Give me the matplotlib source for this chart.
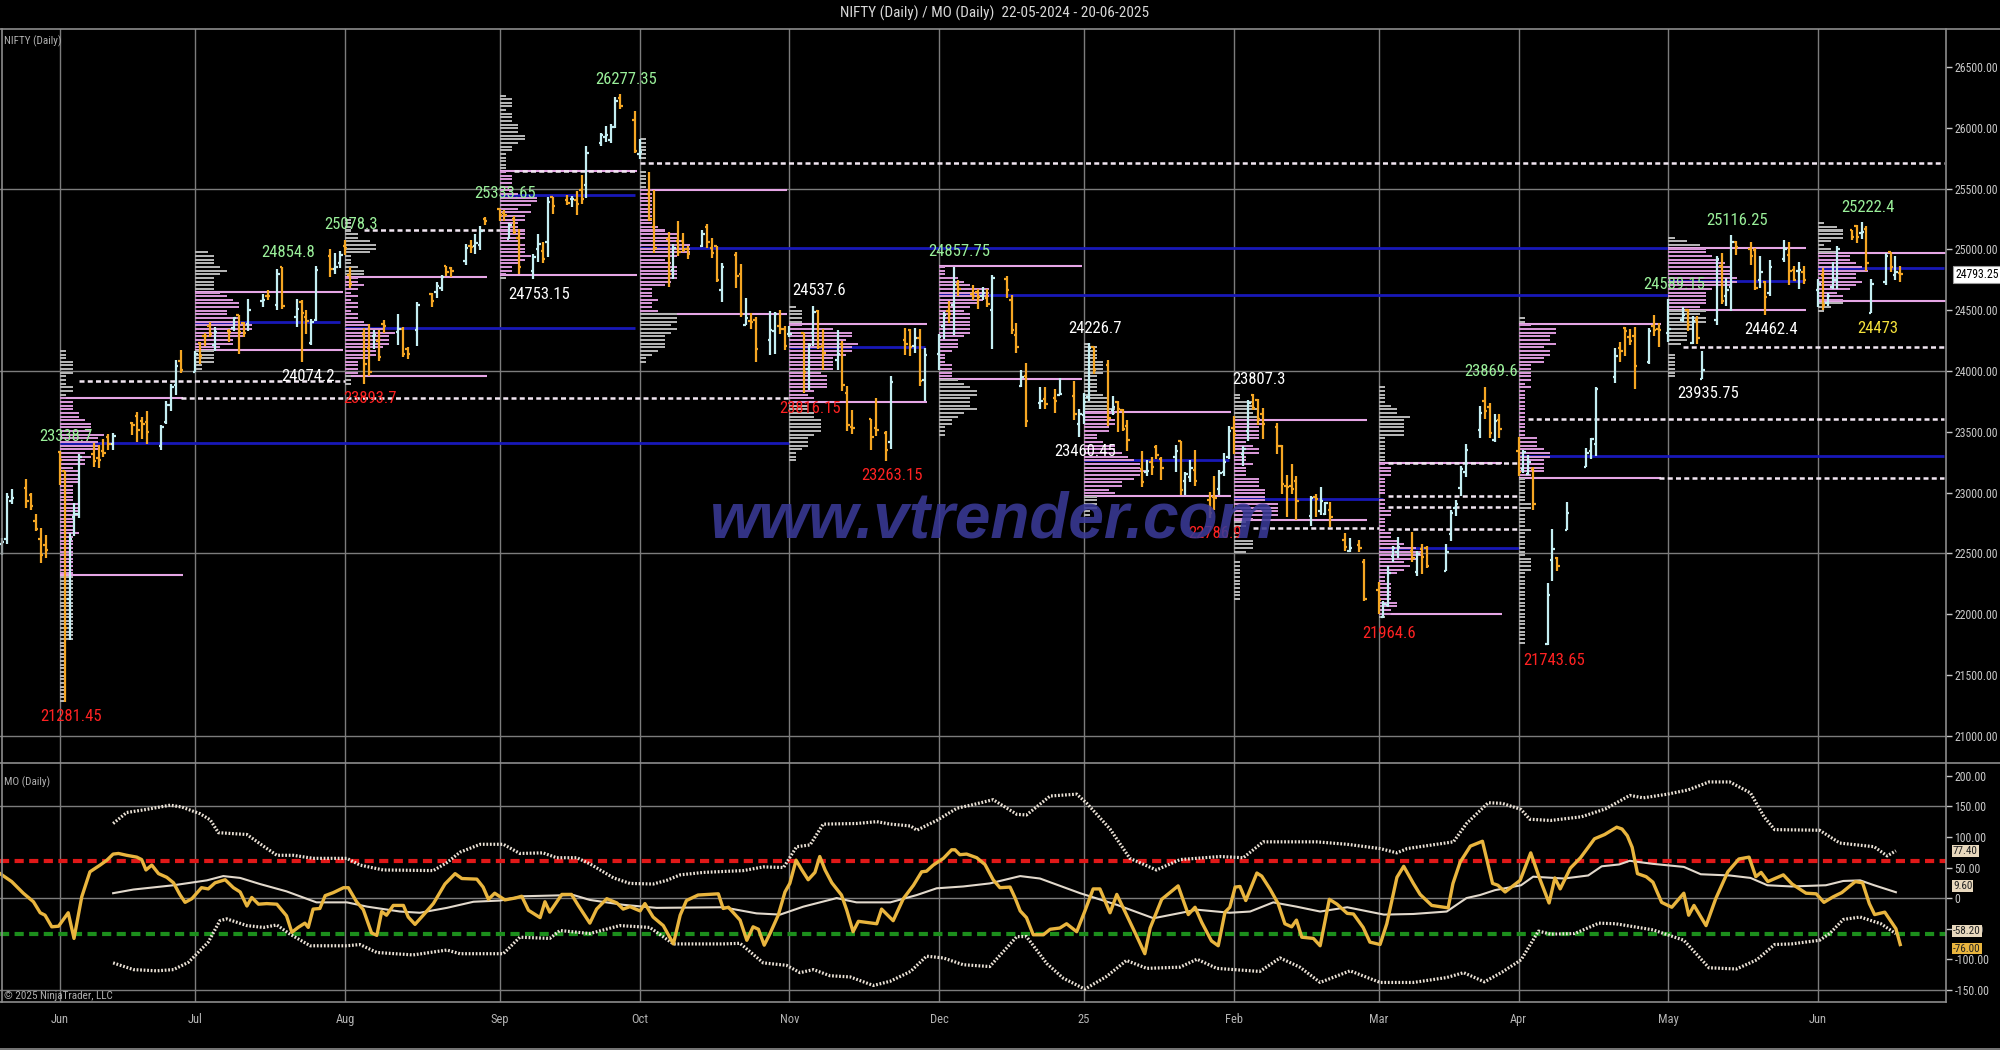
import numpy as np
import pandas as pd
import matplotlib
matplotlib.use("Agg")
import matplotlib.pyplot as plt
import matplotlib.dates as mdates
from matplotlib.collections import LineCollection
from matplotlib.lines import Line2D
from matplotlib.ticker import FuncFormatter
from matplotlib import font_manager as fm

# ---------------- data ----------------
trading_days = [
    ("2024-05", [22, 23, 24, 27, 28, 29, 30, 31]),
    ("2024-06", [3, 4, 5, 6, 7, 10, 11, 12, 13, 14, 18, 19, 20, 21, 24, 25, 26, 27, 28]),
    ("2024-07", [1, 2, 3, 4, 5, 8, 9, 10, 11, 12, 15, 16, 18, 19, 22, 23, 24, 25, 26, 29, 30, 31]),
    ("2024-08", [1, 2, 5, 6, 7, 8, 9, 12, 13, 14, 16, 19, 20, 21, 22, 23, 26, 27, 28, 29, 30]),
    ("2024-09", [2, 3, 4, 5, 6, 9, 10, 11, 12, 13, 16, 17, 18, 19, 20, 23, 24, 25, 26, 27, 30]),
    ("2024-10", [1, 3, 4, 7, 8, 9, 10, 11, 14, 15, 16, 17, 18, 21, 22, 23, 24, 25, 28, 29, 30, 31]),
    ("2024-11", [1, 4, 5, 6, 7, 8, 11, 12, 13, 14, 18, 19, 21, 22, 25, 26, 27, 28, 29]),
    ("2024-12", [2, 3, 4, 5, 6, 9, 10, 11, 12, 13, 16, 17, 18, 19, 20, 23, 24, 26, 27, 30, 31]),
    ("2025-01", [1, 2, 3, 6, 7, 8, 9, 10, 13, 14, 15, 16, 17, 20, 21, 22, 23, 24, 27, 28, 29, 30, 31]),
    ("2025-02", [1, 3, 4, 5, 6, 7, 10, 11, 12, 13, 14, 17, 18, 19, 20, 21, 24, 25, 27, 28]),
    ("2025-03", [3, 4, 5, 6, 7, 10, 11, 12, 13, 17, 18, 19, 20, 21, 24, 25, 26, 27, 28]),
    ("2025-04", [1, 2, 3, 4, 7, 8, 9, 11, 15, 16, 17, 21, 22, 23, 24, 25, 28, 29, 30]),
    ("2025-05", [2, 5, 6, 7, 8, 9, 12, 13, 14, 15, 16, 19, 20, 21, 22, 23, 26, 27, 28, 29, 30]),
    ("2025-06", [2, 3, 4, 5, 6, 9, 10, 11, 12, 13, 16, 17, 18, 19]),
]

opens = [
    22577, 22614, 22930, 23038, 22977, 22762, 22617, 22568,
    23337, 23179, 22128, 22798, 22821, 23319, 23283, 23344, 23453, 23400, 23570, 23629, 23586, 23581, 23382, 23578, 23724, 23881, 24085,
    23992, 24229, 24291, 24369, 24213, 24329, 24351, 24459, 24396, 24388, 24572, 24615, 24543, 24853, 24445, 24568, 24445, 24230, 24423, 24943, 24839, 24891,
    25030, 24789, 24302, 24189, 24289, 24248, 24387, 24321, 24343, 24184, 24335, 24636, 24648, 24680, 24863, 24845, 24906, 25025, 25030, 25035, 25249,
    25333, 25300, 25089, 25250, 25093, 24823, 24999, 24989, 25060, 25431, 25406, 25416, 25402, 25488, 25526, 25872, 25921, 25899, 26005, 26248, 26061,
    25788, 25453, 25182, 25085, 24832, 25065, 25067, 25002, 25024, 25186, 25008, 25027, 24665, 24956, 24799, 24379, 24412, 24418, 24252, 24329, 24371, 24349,
    24302, 24315, 24016, 24308, 24489, 24207, 24087, 24225, 23822, 23542, 23605, 23529, 23488, 23412, 24253, 24340, 24204, 24274, 23927,
    24140, 24368, 24489, 24539, 24711, 24633, 24652, 24620, 24604, 24498, 24753, 24584, 24298, 23877, 23960, 23738, 23769, 23775, 23801, 23796, 23561,
    23637, 23783, 24196, 24045, 23679, 23746, 23675, 23551, 23195, 23165, 23250, 23377, 23277, 23290, 23421, 23099, 23128, 23183, 22941, 22961, 23026, 23169, 23296,
    23528, 23319, 23509, 23801, 23761, 23650, 23543, 23383, 23050, 23055, 23097, 22809, 22963, 22847, 22821, 22857, 22610, 22516, 22568, 22433,
    22195, 21974, 22073, 22480, 22508, 22521, 22345, 22537, 22541, 22353, 22662, 22874, 23036, 23168, 23515, 23751, 23701, 23433, 23600,
    23341, 23193, 23150, 23191, 21758, 22446, 22460, 22695, 23207, 23344, 23401, 23949, 24186, 24357, 24277, 24290, 24070, 24370, 24343,
    24311, 24419, 24500, 24233, 24416, 23936, 24420, 24864, 24613, 24694, 25064, 25005, 24997, 24745, 24733, 24639, 24919, 24957, 24832, 24825, 24812,
    24669, 24786, 24561, 24691, 24748, 25160, 25196, 25134, 25164, 24473, 24732, 24977, 24788, 24803,
]
highs = [
    22629, 22993, 23026, 23110, 22998, 22825, 22705, 22653,
    23338.7, 23179, 22670, 22910, 23320, 23411, 23389, 23441, 23481, 23490, 23579, 23664, 23624, 23668, 23558, 23754, 23889, 24087, 24174,
    24164, 24236, 24309, 24401, 24363, 24344, 24443, 24461, 24402, 24592, 24635, 24662, 24837, 24854.8, 24595, 24582, 24504, 24426, 24861, 24999, 24971, 24984,
    25078.3, 24851, 24350, 24382, 24337, 24340, 24419, 24472, 24359, 24196, 24563, 24638, 24734, 24787, 24867, 24858, 25043, 25073, 25129, 25192, 25268,
    25333.65, 25321, 25216, 25275, 25168, 24958, 25130, 25061, 25434, 25431, 25445, 25441, 25482, 25611, 25849, 25956, 26011, 26032, 26250, 26277.35, 26134,
    25907, 25639, 25486, 25143, 25044, 25235, 25134, 25029, 25159, 25212, 25093, 25029, 24886, 24979, 24882, 24604, 24480, 24440, 24492, 24484, 24498, 24372,
    24368, 24316, 24229, 24537.6, 24503, 24345, 24336, 24243, 23873, 23675, 23606, 23780, 23507, 23956, 24351, 24343, 24354, 24345, 24188,
    24301, 24481, 24574, 24857.75, 24751, 24705, 24677, 24691, 24675, 24792, 24781, 24624, 24394, 24004, 24066, 23869, 23867, 23854, 23938, 23916, 23690,
    23822, 24226.7, 24196, 24089, 23795, 23751, 23689, 23596, 23340, 23264, 23293, 23391, 23292, 23391, 23426, 23169, 23271, 23347, 23007, 23137, 23184, 23322, 23546,
    23632, 23381, 23762, 23807.3, 23773, 23694, 23568, 23390, 23144, 23235, 23133, 22974, 22992, 23049, 22924, 22922, 22668, 22625, 22613, 22450,
    22262, 22106, 22395, 22557, 22633, 22677, 22522, 22578, 22558, 22577, 22857, 22940, 23216, 23402, 23708, 23869.6, 23736, 23646, 23649,
    23459, 23350, 23306, 23214, 22255, 22698, 22468, 22923, 23368, 23452, 23872, 24189, 24242, 24359, 24348, 24365, 24355, 24457, 24396,
    24589.15, 24526, 24510, 24449, 24448, 24164, 24944, 24973, 24767, 25116.25, 25071, 25062, 25010, 24946, 24737, 24909, 25079, 25062, 24864, 24892, 24863,
    24754, 24845, 24644, 24899, 25029, 25160, 25199, 25222.4, 25196, 24754, 24968, 24982, 24947, 24864,
]
lows = [
    22483, 22577, 22908, 22871, 22858, 22685, 22417, 22465,
    23062, 21281.45, 21791, 22642, 22789, 23207, 23206, 23295, 23353, 23354, 23472, 23412, 23442, 23398, 23350, 23562, 23673, 23806, 23985,
    23992, 24056, 24207, 24281, 24168, 24241, 24332, 24141, 24281, 24331, 24522, 24587, 24505, 24508, 24362, 24074.2, 24307, 24210, 24410, 24771, 24798, 24844,
    24956, 24686, 23893.7, 23960, 24184, 24079, 24311, 24212, 24116, 24099, 24204, 24522, 24602, 24654, 24784, 24771, 24874, 24973, 24964, 24998, 25199,
    25235, 25235, 25083, 25127, 24801, 24753.15, 24896, 24885, 24941, 25292, 25361, 25352, 25285, 25376, 25426, 25847, 25886, 25871, 25998, 26151, 25794,
    25739, 25230, 24966, 24694, 24756, 24947, 24979, 24920, 25018, 25008, 24929, 24728, 24567, 24679, 24445, 24378, 24341, 24073, 24134, 24140, 24307, 24172,
    24280, 23816.15, 23842, 24204, 24179, 24004, 24004, 23839, 23509, 23484, 23350, 23464, 23263.15, 23360, 24135, 24125, 24146, 23873, 23751,
    24008, 24260, 24395, 24295, 24620, 24580, 24511, 24583, 24527, 24180, 24601, 24303, 24149, 23870, 23537, 23685, 23685, 23654, 23800, 23599, 23460.45,
    23562, 23751, 23976, 23551, 23637, 23496, 23503, 23344, 23047, 23134, 23146, 23273, 23100, 23170, 22976, 22981, 23090, 23050, 22786.9, 22857, 22976, 23139, 23277,
    23318, 23222, 23423, 23680, 23557, 23443, 23316, 22986, 22799, 22992, 22774, 22725, 22801, 22814, 22812, 22720, 22518, 22513, 22508, 22105,
    22004, 21964.6, 22062, 22427, 22464, 22429, 22315, 22329, 22378, 22353, 22599, 22807, 22973, 23132, 23451, 23601, 23451, 23412, 23450,
    23136, 23158, 23146, 22857, 21743.65, 22270, 22353, 22695, 23207, 23273, 23298, 23903, 24073, 24119, 24216, 23848, 24054, 24290, 24198,
    24238, 24400, 24331, 24220, 24220, 23935.75, 24378, 24547, 24535, 24494, 24954, 24875, 24662, 24685, 24462.4, 24614, 24900, 24704, 24737, 24677, 24717,
    24526, 24502, 24530, 24671, 24671, 25077, 25055, 25081, 24825, 24473, 24703, 24813, 24750, 24733,
]
closes = [
    22597, 22967, 22957, 22932, 22888, 22704, 22488, 22531,
    23264, 21884, 22620, 22821, 23290, 23259, 23264, 23323, 23398, 23465, 23557, 23516, 23567, 23501, 23538, 23721, 23868, 24044, 24010,
    24141, 24123, 24286, 24302, 24323, 24320, 24433, 24324, 24316, 24502, 24586, 24613, 24800, 24530, 24509, 24479, 24413, 24406, 24834, 24836, 24857, 24951,
    25010, 24718, 24056, 23992, 24297, 24117, 24367, 24347, 24139, 24143, 24541, 24572, 24698, 24770, 24811, 24823, 25010, 25017, 25052, 25151, 25235,
    25279, 25279, 25198, 25145, 24852, 24936, 25041, 24918, 25389, 25356, 25383, 25418, 25377, 25415, 25791, 25939, 25940, 26004, 26216, 26179, 25811,
    25797, 25250, 25015, 24796, 25013, 24981, 24998, 24964, 25128, 25057, 24971, 24750, 24854, 24781, 24472, 24435, 24399, 24181, 24339, 24466, 24341, 24205,
    24304, 23995, 24213, 24484, 24199, 24148, 24141, 23883, 23559, 23532, 23453, 23518, 23349, 23907, 24221, 24194, 24274, 23914, 24131,
    24276, 24457, 24467, 24708, 24677, 24619, 24610, 24641, 24548, 24768, 24668, 24336, 24198, 23951, 23587, 23753, 23727, 23750, 23813, 23644, 23645,
    23742, 24188, 24004, 23616, 23707, 23688, 23526, 23431, 23085, 23176, 23213, 23311, 23203, 23344, 23024, 23155, 23205, 23092, 22829, 22957, 23163, 23249, 23508,
    23482, 23361, 23739, 23696, 23603, 23560, 23381, 23071, 23045, 23031, 22929, 22959, 22945, 22933, 22913, 22795, 22553, 22547, 22545, 22124,
    22119, 22082, 22337, 22544, 22552, 22460, 22497, 22470, 22397, 22509, 22834, 22907, 23190, 23350, 23658, 23668, 23486, 23591, 23519,
    23165, 23332, 23250, 22904, 22161, 22535, 22399, 22828, 23328, 23437, 23851, 24125, 24167, 24328, 24246, 24039, 24328, 24335, 24334,
    24346, 24461, 24380, 24414, 24273, 24008, 24924, 24578, 24666, 25062, 25019, 24945, 24683, 24813, 24610, 24853, 25001, 24826, 24752, 24833, 24751,
    24716, 24543, 24620, 24751, 25003, 25103, 25104, 25141, 24888, 24719, 24946, 24853, 24812, 24793.25,
]

month_labels = ["Jun", "Jul", "Aug", "Sep", "Oct", "Nov", "Dec", "25", "Feb", "Mar", "Apr", "May", "Jun"]

# monthly profile levels (value area high / point of control / value area low)
profile_months = ["2024-06", "2024-07", "2024-08", "2024-09", "2024-10", "2024-11", "2024-12",
                  "2025-01", "2025-02", "2025-03", "2025-04", "2025-05", "2025-06"]
va_high = [23780, 24650, 24773, 25645, 25488, 24387, 24863, 23663, 23597, 23240, 24387, 25011, 24970]
poc_level = [23408, 24404, 24354, 25447, 25011, 24197, 24625, 23268, 22947, 22544, 23301, 24741, 24847]
va_low = [22322, 24172, 23960, 24789, 24469, 23745, 23934, 22972, 22775, 22002, 23120, 24501, 24575]
poc_end = ["2024-11-01", "2024-07-31", "2024-09-30", "2024-09-30", "2025-05-02", "2024-11-29", "2025-05-02",
           "2025-01-31", "2025-03-04", "2025-04-01", "2025-06-28", "2025-05-30", "2025-06-28"]

# untested levels carried forward (white dashed)
naked_level = [23920, 23780, 25160, 25645, 25711, 22709, 23240, 22972, 22882, 22701, 23605, 23120, 24197]
naked_start = ["2024-06-07", "2024-06-28", "2024-08-05", "2024-09-05", "2024-10-01", "2025-02-05", "2025-03-05",
               "2025-03-05", "2025-03-05", "2025-03-05", "2025-04-03", "2025-04-30", "2025-05-05"]
naked_end = ["2024-08-01", "2024-11-01", "2024-09-02", "2024-09-30", "2025-06-28", "2025-03-03", "2025-04-01",
             "2025-04-01", "2025-04-01", "2025-04-01", "2025-06-28", "2025-06-28", "2025-06-28"]

# swing high / low labels
label_dates = ["2024-06-03", "2024-06-04", "2024-07-19", "2024-07-23", "2024-08-01", "2024-08-05", "2024-09-02",
               "2024-09-09", "2024-09-27", "2024-11-06", "2024-11-04", "2024-11-21", "2024-12-05", "2025-01-02",
               "2024-12-31", "2025-01-27", "2025-02-05", "2025-03-04", "2025-03-25", "2025-04-07", "2025-05-02",
               "2025-05-09", "2025-05-15", "2025-05-22", "2025-06-11", "2025-06-13"]
label_vals = [23338.7, 21281.45, 24854.8, 24074.2, 25078.3, 23893.7, 25333.65, 24753.15, 26277.35, 24537.6,
              23816.15, 23263.15, 24857.75, 24226.7, 23460.45, 22786.9, 23807.3, 21964.6, 23869.6, 21743.65,
              24589.15, 23935.75, 25116.25, 24462.4, 25222.4, 24473]
label_side = ["hi", "lo", "hi", "lo", "hi", "lo", "hi", "lo", "hi", "hi", "lo", "lo", "hi", "hi", "lo", "lo",
              "hi", "lo", "hi", "lo", "hi", "lo", "hi", "lo", "hi", "lo"]
label_tone = ["g", "r", "g", "w", "g", "r", "g", "w", "g", "w", "r", "r", "g", "w", "w", "r", "w", "r", "g", "r",
              "g", "w", "g", "w", "g", "y"]

# MO oscillator (calendar days after 3 Jun 2024, value)
mo_day = [-12.4, -10.0, -7.6, -5.5, -4.1, -3.1, -1.7, -0.3, 1.7, 2.9, 4.5, 6.2, 8.3, 9.7, 11.0, 12.1, 13.8, 15.9, 16.9, 17.8,
          19.0, 20.4, 22.1, 23.5, 24.8, 25.9, 27.3, 29.3, 30.7, 32.1, 34.2, 35.9, 37.3, 38.7, 39.7, 41.1, 42.8, 44.9, 46.9, 48.0,
          49.3, 50.7, 51.4, 52.4, 53.8, 54.9, 56.6, 58.7, 59.7, 61.4, 62.8, 64.5, 65.6, 66.6, 67.6, 69.0, 71.1, 72.1, 73.5, 75.2,
          77.3, 79.7, 81.8, 83.2, 86.3, 87.6, 88.7,
          90.0, 92.1, 94.2, 95.6, 97.0, 99.4, 100.4, 101.4, 103.9, 105.9, 107.3, 109.7, 111.1, 113.2, 115.3, 116.6, 118.0, 120.1,
          121.1, 122.8, 124.9, 127.0, 128.4, 129.7, 132.1, 136.3, 137.3, 138.4, 140.8, 142.2, 143.5, 144.6, 145.8, 147.0, 148.7,
          150.1, 151.1, 152.4, 153.6, 154.9, 156.3, 157.3, 158.4, 159.8, 161.8, 162.9, 164.2, 165.3, 169.1, 170.1, 172.5, 174.6,
          176.7, 178.4, 179.4, 180.8, 182.9, 184.6, 185.3, 186.3, 187.7, 189.8,
          191.5, 193.2, 194.6, 196.7, 197.7, 198.8, 200.1, 201.5, 203.6, 205.0, 207.0, 208.4, 210.5, 212.2, 213.9, 215.3, 217.4,
          218.8, 220.8, 222.9, 224.6, 225.7, 228.1, 229.8, 231.5, 233.6, 235.0, 236.4, 238.4, 239.8, 241.2, 242.2, 243.3, 244.3,
          245.5, 247.8, 248.8, 250.5, 252.2, 253.6, 255.0, 256.0, 257.1, 259.5, 260.9, 262.8, 264.4, 266.5, 267.8, 269.8, 271.2,
          273.3, 274.7, 276.8, 278.2, 280.2, 281.6, 284.0, 287.4, 288.4,
          289.9, 292.0, 294.5, 296.6, 297.7, 299.2, 302.3, 304.5, 306.3, 308.3, 309.5, 310.6, 312.7, 314.8, 317.7, 319.8, 322.3,
          323.4, 324.5, 325.5, 326.6, 328.4, 329.8, 331.6, 333.7, 336.2, 337.2, 338.3, 340.8, 342.8, 345.3, 347.6, 349.7, 351.1,
          352.2, 353.6, 356.8, 358.6, 361.5, 363.6, 365.2, 367.1, 368.9, 371.7, 373.2, 374.6, 375.7, 377.8, 380.1, 381.0]
mo_val = [40, 27, 8, -6, -24, -28, -47, -46, -24, -66, 2, 43, 54, 62, 72, 73, 70, 67, 63, 46,
          54, 40, 34, 25, 6, -7, -1, 17, 15, 25, 30, 17, 10, -13, 1, -10, -9, -10, -29, -56,
          -48, -41, -48, -18, -17, 4, 9, 17, 17, -6, -19, -57, -61, -22, -28, -12, -12, -31, -43, -28,
          -9, 23, 40, 32, 31, 18, -2,
          8, -3, 0, 3, -20, -32, -6, -23, 6, 6, -12, -41, -18, -1, -8, -18, -14, -21,
          -9, -31, -45, -75, -28, -4, 5, 7, -17, -15, -36, -69, -47, -51, -77, -58, -28,
          10, 24, 62, 46, 30, 42, 68, 46, 25, 5, -20, -55, -38, -42, -18, -37, -1,
          21, 43, 44, 54, 65, 79, 79, 71, 72, 66,
          55, 30, 17, 18, 1, -21, -32, -60, -60, -51, -49, -42, -55, -21, 15, 15, -24,
          6, -27, -62, -91, -49, -2, 9, 20, -27, -15, -40, -70, -78, -23, -15, 18, 19,
          -4, 41, 36, 15, -9, -42, -47, -36, -64, -66, -78, -2, -10, -25, -26, -48, -72,
          -76, -42, 34, 52, 24, 6, -12, -16, 24,
          59, 85, 93, 24, 21, 10, 29, 74, 33, -8, 33, 15, 49, 66, 97, 104, 116,
          113, 102, 83, 40, 35, 26, -7, -15, 8, -28, -12, -45, -1, 43, 64, 67, 35,
          42, 27, 38, 23, 8, 7, -7, 2, 9, 27, 25, -9, -27, -23, -50, -76.0]

up_day = [11.0, 13.8, 17.9, 22.8, 25.2, 29.0, 31.1, 32.8, 38.7, 42.1, 44.9, 48.3, 52.4, 59.4, 62.1, 66.9, 77.3, 80.1, 82.8, 87.0,
          91.8, 95.2, 100.0, 102.8, 107.0, 109.7, 114.6, 118.0, 122.8, 125.6, 128.4, 133.2, 141.5, 145.6, 149.8, 152.5, 155.3,
          158.0, 164.9, 169.1, 171.9, 176.1, 177.4, 181.5, 185.7, 189.1, 193.2, 198.1, 200.1, 205.0, 210.5, 212.6, 217.4, 221.5,
          227.0, 231.9, 240.2, 245.0, 249.1, 260.2, 266.5, 273.3, 276.8, 278.9, 288.5, 291.2, 295.7, 298.6, 302.5, 304.3, 308.6,
          315.0, 320.0, 325.0, 327.8, 332.8, 337.1, 341.4, 345.7, 350.0, 352.8, 355.0, 364.3, 368.5, 375.6, 378.3, 380.1]
up_val = [122, 140, 145, 152, 149, 138, 128, 107, 104, 85, 70, 70, 65, 65, 54, 46, 45, 58, 75, 88,
          88, 73, 74, 66, 66, 56, 33, 24, 23, 29, 38, 42, 45, 51, 50, 84, 87,
          121, 122, 125, 121, 118, 111, 127, 147, 153, 161, 137, 136, 167, 170, 155, 113, 65,
          46, 63, 68, 66, 92, 92, 88, 81, 74, 81, 92, 122, 156, 155, 145, 129, 127,
          133, 146, 168, 164, 170, 177, 190, 190, 172, 133, 112, 111, 90, 84, 69, 77.40]
mid_day = [11.0, 15.2, 23.5, 30.4, 33.8, 37.3, 41.4, 46.9, 53.1, 59.4, 63.6, 70.4, 74.5, 80.1, 85.6, 91.1, 95.9, 106.3, 109.7,
           116.6, 123.5, 137.3, 144.2, 149.1, 153.9, 160.8, 164.9, 171.9, 177.4, 181.5, 187.0, 192.5, 198.8, 202.9, 211.2, 218.8,
           226.4, 235.4, 242.2, 246.4, 251.2, 256.0, 260.9, 266.5, 274.1, 280.2, 287.1, 291.2, 294.0, 297.1, 302.5, 305.0, 311.4,
           316.4, 319.2, 322.8, 325.0, 329.8, 336.2, 339.7, 345.7, 350.0, 353.5, 358.5, 365.6, 369.2, 372.7, 375.6, 380.1]
mid_val = [8, 14, 21, 29, 36, 33, 23, 11, -7, -7, -14, -22, -24, -16, -6, -4, 3, 5, -3,
           -11, -16, -15, -25, -27, -14, 0, -7, -7, 5, 16, 19, 24, 36, 32, 8, -11,
           -33, -19, -24, -22, -7, -14, -22, -15, -27, -26, -22, 0, 5, 13, 21, 35, 32,
           37, 52, 55, 61, 56, 51, 39, 37, 33, 21, 19, 21, 28, 29, 21, 9.60]
lo_day = [11.0, 15.2, 20.0, 23.5, 26.6, 30.7, 33.1, 34.5, 38.7, 42.1, 44.9, 47.6, 51.8, 59.4, 62.1, 65.6, 73.1, 80.1, 82.8, 91.8,
          95.2, 101.4, 103.5, 109.7, 115.9, 122.1, 127.0, 137.3, 140.8, 145.6, 150.4, 153.2, 156.0, 159.4, 163.6, 168.4, 171.9,
          176.1, 179.4, 182.9, 187.0, 192.5, 198.1, 200.1, 204.3, 207.7, 212.2, 216.7, 220.8, 225.0, 231.9, 235.4, 239.5, 248.4,
          252.6, 256.7, 260.9, 267.1, 273.3, 280.2, 287.1, 290.6, 294.9, 298.6, 302.5, 306.1, 308.6, 313.6, 318.6, 322.1, 329.8,
          336.2, 341.4, 347.1, 351.3, 355.0, 358.5, 364.3, 366.4, 369.2, 372.7, 377.0, 380.1]
lo_val = [-106, -117, -119, -117, -105, -72, -37, -34, -45, -48, -44, -59, -78, -78, -76, -89, -93, -85, -91, -91,
          -64, -66, -53, -58, -45, -48, -75, -75, -74, -106, -110, -122, -117, -127, -129, -143, -136,
          -120, -95, -98, -109, -112, -63, -63, -107, -131, -149, -128, -102, -115, -113, -100, -115, -120,
          -98, -113, -138, -119, -138, -138, -130, -122, -137, -121, -101, -54, -59, -58, -41, -42, -52,
          -69, -114, -116, -101, -76, -75, -69, -58, -35, -31, -42, -58.20]
mo_upper_line = 61
mo_lower_line = -58

# ---------------- fonts ----------------
def first_font(names):
    for name in names:
        try:
            fm.findfont(fm.FontProperties(family=name), fallback_to_default=False)
            return name
        except ValueError:
            continue
    return None

narrow = first_font(["Liberation Sans Narrow", "Roboto Condensed", "DejaVu Sans Condensed", "Open Sans Condensed"])
base = narrow or "Liberation Sans"
fs = 1.0 if narrow else 0.82
plt.rcParams["font.family"] = [base, "DejaVu Sans"]
plt.rcParams["axes.unicode_minus"] = False

# ---------------- prep ----------------
bar_dates = pd.to_datetime([f"{m}-{d:02d}" for m, days in trading_days for d in days])
o, h, l, c = (np.array(v, dtype=float) for v in (opens, highs, lows, closes))
assert len(bar_dates) == len(o) == len(h) == len(l) == len(c)
xd = mdates.date2num(bar_dates)
months = bar_dates.strftime("%Y-%m")

day0 = pd.Timestamp("2024-06-03")
x0 = mdates.date2num(day0)
px_day = 4.83
x_left = x0 - 60 / px_day
x_right = x0 + (1946 - 60) / px_day

def dnum(s):
    return mdates.date2num(pd.to_datetime(s))

def offs(days):
    return x0 + np.asarray(days, dtype=float)

W, H = 2000, 1050
fig = plt.figure(figsize=(20, 10.5), dpi=100, facecolor="black")
ax = fig.add_axes([0, 1 - 763 / H, 1946 / W, (763 - 29) / H])
ax2 = fig.add_axes([0, 1 - 1002 / H, 1946 / W, (1002 - 763) / H], sharex=ax)
for a in (ax, ax2):
    a.set_facecolor("black")
    for s in a.spines.values():
        s.set_visible(False)

grid_c = "#7c7c7c"
first_idx = [np.flatnonzero(months == m)[0] for m in profile_months]
month_x = xd[first_idx]
for a in (ax, ax2):
    for xm in month_x:
        a.axvline(xm, color=grid_c, lw=1, zorder=0.5)
for v in (21000, 22500, 24000, 25500):
    ax.axhline(v, color=grid_c, lw=1, zorder=0.5)
for v in (-150, 0, 150):
    ax2.axhline(v, color=grid_c, lw=1, zorder=0.5)

# ---------------- levels ----------------
pink = "#e6a6e6"
blue = "#1818b8"
for i, m in enumerate(profile_months):
    sel = np.flatnonzero(months == m)
    start = xd[sel[0]]
    end = x_right if i == len(profile_months) - 1 else xd[sel[-1]] + 0.5
    ax.hlines([va_high[i], va_low[i]], start, end, color=pink, lw=1.5, zorder=2)
    ax.hlines(poc_level[i], start, dnum(poc_end[i]), color=blue, lw=2.0, zorder=2)

for lv, s0, s1 in zip(naked_level, naked_start, naked_end):
    ax.hlines(lv, dnum(s0), dnum(s1), color="#f2e6f2", lw=1.8, linestyles=(0, (2.0, 1.3)), zorder=2.2)

# ---------------- monthly profiles ----------------
bin_pts = 30
for i, m in enumerate(profile_months):
    sel = np.flatnonzero(months == m)
    lo_m, hi_m = l[sel], h[sel]
    centers = np.arange(np.floor(lo_m.min() / bin_pts) * bin_pts, hi_m.max() + bin_pts, bin_pts) + bin_pts / 2
    counts = ((lo_m[None, :] <= centers[:, None]) & (hi_m[None, :] >= centers[:, None])).sum(axis=1)
    inside = (centers >= va_low[i]) & (centers <= va_high[i])
    cols = np.where(inside, "#d696d6", "#b4b4b4")
    ax.barh(centers, counts * 1.3, left=xd[sel[0]], height=bin_pts * 0.55, color=cols, linewidth=0, zorder=3)

# ---------------- OHLC bars ----------------
up_c, dn_c = "#c4eef2", "#f5a623"
tk = 0.5
segs, cols = [], []
for x, oo, hh, ll, cc in zip(xd, o, h, l, c):
    col = up_c if cc >= oo else dn_c
    segs += [[(x, ll), (x, hh)], [(x - tk, oo), (x, oo)], [(x, cc), (x + tk, cc)]]
    cols += [col] * 3
ax.add_collection(LineCollection(segs, colors=cols, linewidths=1.6, zorder=4, capstyle="butt"))

# ---------------- labels ----------------
tone = {"g": "#9af09a", "r": "#ff2222", "w": "#ffffff", "y": "#f5e23c"}
for dstr, v, side, t in zip(label_dates, label_vals, label_side, label_tone):
    dy = 15 if side == "hi" else -15
    ax.annotate(f"{v:.10g}", (dnum(dstr), v), xytext=(6, dy), textcoords="offset pixels",
                ha="center", va="center", color=tone[t], fontsize=12 * fs, zorder=6)

ax.text(0.51, 0.33, "www.vtrender.com", transform=ax.transAxes, ha="center", va="center",
        fontsize=46, fontweight="bold", fontstyle="italic", family=["Liberation Sans", "DejaVu Sans"],
        color="#3a3a96", alpha=0.88, zorder=7)

# ---------------- axes cosmetics ----------------
ax.set_xlim(x_left, x_right)
ax.set_ylim(20776, 26812)
ax.yaxis.tick_right()
ax.set_yticks(np.arange(21000, 26501, 500))
ax.yaxis.set_major_formatter(FuncFormatter(lambda v, p: f"{v:.2f}"))
ax.tick_params(axis="y", colors="#c8c8c8", labelsize=8.5 * fs, length=4, width=1, pad=2)
ax.tick_params(axis="x", length=0, labelbottom=False)

ax.annotate(f"{c[-1]:.2f}", xy=(1.0, c[-1]), xycoords=("axes fraction", "data"), xytext=(9, 0),
            textcoords="offset pixels", ha="left", va="center", fontsize=8.5 * fs, color="black",
            bbox=dict(boxstyle="square,pad=0.2", fc="white", ec="#9a9a9a", lw=0.8), zorder=8,
            annotation_clip=False)

# ---------------- oscillator ----------------
ax2.axhline(mo_upper_line, color="#e01818", lw=3, ls=(0, (2.2, 1.3)), zorder=1)
ax2.axhline(mo_lower_line, color="#1c8e1c", lw=3, ls=(0, (2.2, 1.3)), zorder=1)
band_c = "#ebe2d6"
ax2.plot(offs(up_day), up_val, color=band_c, lw=2.3, ls=(0, (0.55, 0.55)), zorder=2)
ax2.plot(offs(lo_day), lo_val, color=band_c, lw=2.3, ls=(0, (0.55, 0.55)), zorder=2)
ax2.plot(offs(mid_day), mid_val, color="#e2d9cc", lw=1.5, zorder=2)
ax2.plot(offs(mo_day), mo_val, color="#e9b53e", lw=2.4, zorder=3)

ax2.set_ylim(-170, 221)
ax2.yaxis.tick_right()
ax2.set_yticks(np.arange(-150, 201, 50))
ax2.yaxis.set_major_formatter(FuncFormatter(lambda v, p: "0" if v == 0 else f"{v:.2f}"))
ax2.tick_params(axis="y", colors="#c8c8c8", labelsize=8.5 * fs, length=4, width=1, pad=2)
ax2.set_xticks(month_x)
ax2.set_xticklabels(month_labels)
ax2.tick_params(axis="x", length=0, pad=8, colors="#b4b4b4", labelsize=9 * fs)

# last-value tags; nudge the crowded ones a few pixels so they don't sit on top of each other
tag_specs = ((up_val[-1], "#e8d8bd", 0), (mid_val[-1], "#e8d8bd", 6),
             (lo_val[-1], "#e8d8bd", 3), (mo_val[-1], "#e9b53e", -4))
for v, fc, dy in tag_specs:
    ax2.annotate(f"{v:.2f}", xy=(1.0, v), xycoords=("axes fraction", "data"), xytext=(7, dy),
                 textcoords="offset pixels", ha="left", va="center", fontsize=8 * fs, color="#222222",
                 bbox=dict(boxstyle="square,pad=0.08", fc=fc, ec="none"), zorder=8, annotation_clip=False)

# ---------------- frame + texts ----------------
def fig_line(xs, ys):
    fig.add_artist(Line2D([x / W for x in xs], [1 - y / H for y in ys], color="#8c8c8c", lw=1.2))

fig_line([0, W], [29, 29])
fig_line([0, W], [763, 763])
fig_line([0, 1946], [1002, 1002])
fig_line([1946, 1946], [29, 1002])
fig_line([2, 2], [29, 1002])
fig_line([0, W], [1049, 1049])

fig.text(0.4975, 1 - 13 / H, "NIFTY (Daily) / MO (Daily)  22-05-2024 - 20-06-2025", ha="center", va="center",
         color="#d8d8d8", fontsize=11 * fs)
fig.text(0.002, 1 - 41 / H, "NIFTY (Daily)", ha="left", va="center", color="#b0b0b0", fontsize=8 * fs)
fig.text(0.002, 1 - 782 / H, "MO (Daily)", ha="left", va="center", color="#b0b0b0", fontsize=8 * fs)
fig.text(0.002, 1 - 996 / H, "\u00a9 2025 NinjaTrader, LLC", ha="left", va="center", color="#b0b0b0", fontsize=8 * fs)

fig.savefig("out.png", dpi=100, facecolor="black")
